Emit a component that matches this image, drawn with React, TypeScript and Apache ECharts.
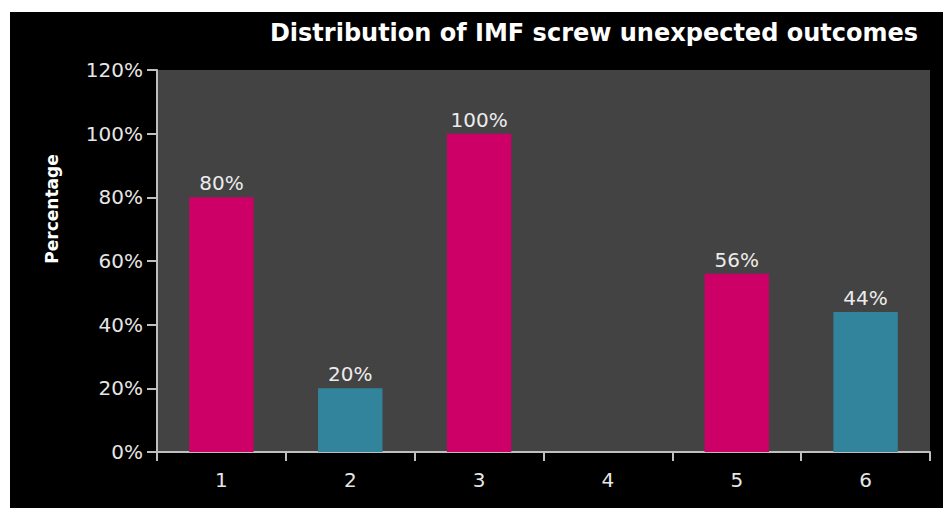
import React, { useEffect, useRef } from "react";
import * as echarts from "echarts";

const categories = ["1", "2", "3", "4", "5", "6"];
const values = [80, 20, 100, 0, 56, 44];
const barColors = ["#cc0066", "#31849b", "#cc0066", "#cc0066", "#cc0066", "#31849b"];
const yTicks = [0, 20, 40, 60, 80, 100, 120];

export default function App() {
  const ref = useRef<HTMLDivElement>(null);
  useEffect(() => {
    const chart = echarts.init(ref.current!, null, { renderer: "svg" });
    const font = "'DejaVu Sans', 'Open Sans', sans-serif";
    chart.setOption({
      animation: false,
      backgroundColor: "#000000",
      title: {
        text: "Distribution of IMF screw unexpected outcomes",
        right: 20,
        top: 4,
        textStyle: { color: "#ffffff", fontSize: 24, fontWeight: "bold", fontFamily: font },
      },
      grid: { left: 147, top: 58, right: 13, bottom: 56, show: true, backgroundColor: "#434343", borderWidth: 0 },
      graphic: [
        {
          type: "text",
          x: 42,
          y: 197,
          rotation: Math.PI / 2,
          style: {
            text: "Percentage",
            fill: "#ffffff",
            font: `bold 17px ${font}`,
            align: "center",
            verticalAlign: "middle",
          },
        },
      ],
      xAxis: {
        type: "category",
        data: categories,
        axisLine: { lineStyle: { color: "#bfbfbf", width: 2 } },
        axisTick: { show: true, alignWithLabel: false, length: 9, lineStyle: { color: "#bfbfbf", width: 2 } },
        axisLabel: { color: "#e6e6e6", fontSize: 20, fontFamily: font, margin: 18 },
      },
      yAxis: {
        type: "value",
        min: yTicks[0],
        max: yTicks[yTicks.length - 1],
        interval: 20,
        splitLine: { show: false },
        axisLine: { show: true, lineStyle: { color: "#bfbfbf", width: 2 } },
        axisTick: { show: true, length: 10, lineStyle: { color: "#bfbfbf", width: 2 } },
        axisLabel: { color: "#e6e6e6", fontSize: 20, fontFamily: font, margin: 14, formatter: "{value}%" },
      },
      series: [
        {
          type: "bar",
          barWidth: "50%",
          data: values.map((v, i) => ({ value: v, itemStyle: { color: barColors[i] } })),
          label: {
            show: true,
            position: "top",
            distance: 4,
            color: "#ececec",
            fontSize: 20,
            fontFamily: font,
            formatter: (p: any) => (p.value > 0 ? `${p.value}%` : ""),
          },
        },
      ],
    });
    return () => chart.dispose();
  }, []);
  return (
    <div
      ref={ref}
      style={{ position: "absolute", left: 10, top: 12, width: 933, height: 496 }}
    />
  );
}
